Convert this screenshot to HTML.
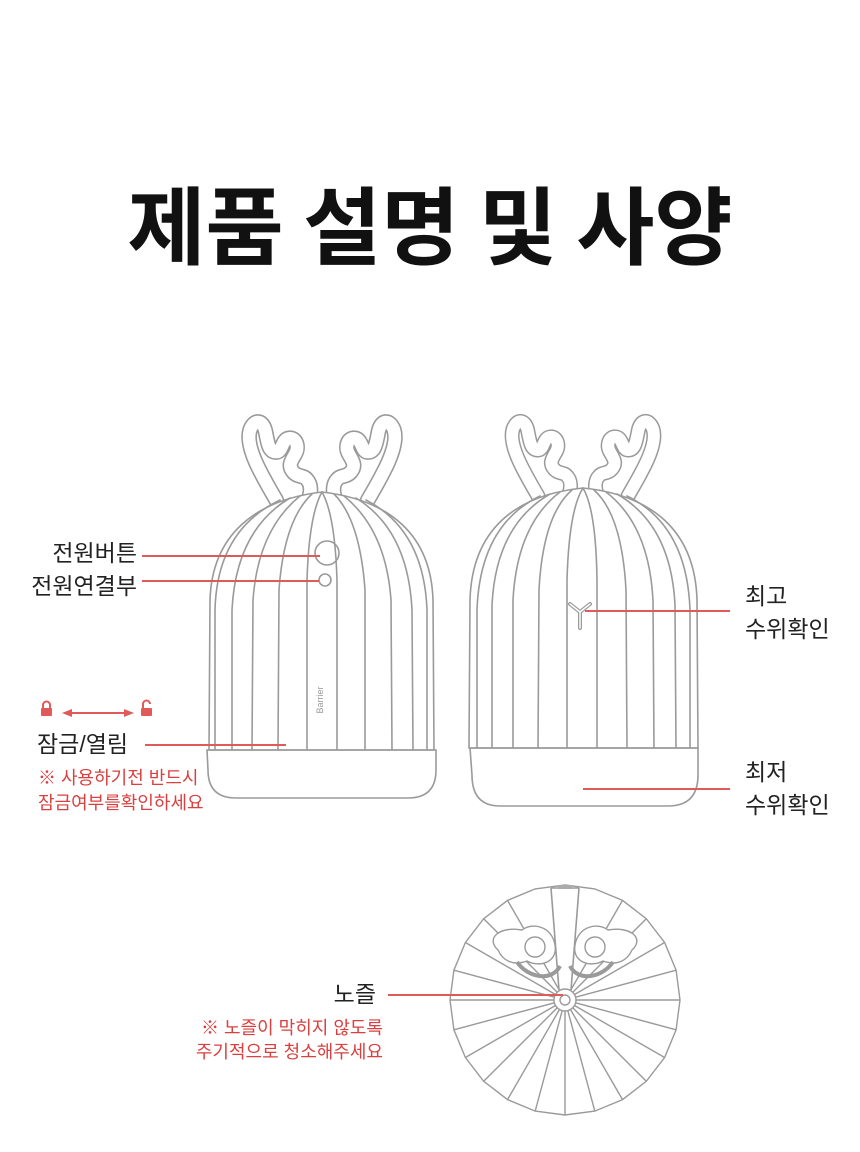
<!DOCTYPE html>
<html><head><meta charset="utf-8"><style>
html,body{margin:0;padding:0;background:#fff}
svg{display:block}
text{font-family:"Liberation Sans","Noto Sans CJK KR",sans-serif}
</style></head><body>
<svg width="860" height="1152" viewBox="0 0 860 1152" xmlns="http://www.w3.org/2000/svg">
<defs>
<path id="ant" d="M-14,6 C-28,-18 -44,-45 -39,-61 C-35,-72 -26,-71 -24,-58 C-22,-48 -21,-40 -14,-40 C-8,-40 -9,-52 -2,-53 C5,-54 8,-45 4,-38 C0,-31 -3,-27 2,-21 C6,-16 12,-18 15,-14 C19,-10 20,-2 16,6"/>
</defs>
<text x="430" y="258" text-anchor="middle" font-size="85" font-weight="bold" fill="#111" style="font-family:'Noto Sans CJK KR',sans-serif">제품 설명 및 사양</text>

<!-- antlers as outlined shapes -->
<g fill="none" stroke-linecap="round" stroke-linejoin="round">
<g stroke="#9a9a9a" stroke-width="15">
<use href="#ant" transform="translate(291,494) scale(1.05)"/>
<use href="#ant" transform="translate(353,494) scale(-1.05,1.05)"/>
<use href="#ant" transform="translate(552,490)"/>
<use href="#ant" transform="translate(614,490) scale(-1,1)"/>
</g>
<g stroke="#fff" stroke-width="12">
<use href="#ant" transform="translate(291,494) scale(1.05)"/>
<use href="#ant" transform="translate(353,494) scale(-1.05,1.05)"/>
<use href="#ant" transform="translate(552,490)"/>
<use href="#ant" transform="translate(614,490) scale(-1,1)"/>
</g>
</g>

<g fill="none" stroke="#9a9a9a" stroke-width="1.6" stroke-linecap="round">
<!-- left device -->
<path d="M209,750 L210,600 C212,535 255,500 322,492 C390,500 431,535 433,600 L434,750 Z" fill="#fff"/>
<path d="M207,750 L436,750 L436,770 Q436,798 408,798 L236,798 Q208,798 208,770 Z"/>
<path d="M215,750 L215,610 Q217,530 280,500"/>
<path d="M232,750 L232,610 Q236,530 290,498"/>
<path d="M252,750 L253,600 Q258,530 300,496"/>
<path d="M278,750 L279,590 Q284,520 312,494"/>
<path d="M307,750 L307,580 Q309,515 322,492"/>
<path d="M337,750 L337,580 Q335,515 322,492"/>
<path d="M365,750 L365,590 Q360,520 334,494"/>
<path d="M392,750 L391,600 Q386,530 344,496"/>
<path d="M413,750 L412,610 Q408,530 356,498"/>
<path d="M427,750 L427,610 Q424,530 366,500"/>
<circle cx="327" cy="553" r="12"/>
<circle cx="325" cy="580" r="6"/>
<!-- right device -->
<path d="M469,748 L470,600 C472,530 515,495 583,488 C651,495 695,530 697,600 L698,748 Z" fill="#fff"/>
<path d="M470,748 L698,748 L698,775 Q698,806 668,806 L500,806 Q472,806 472,775 Z"/>
<path d="M477,748 L477,610 Q480,525 540,496"/>
<path d="M492,748 L492,605 Q496,525 550,494"/>
<path d="M513,748 L513,600 Q517,525 560,492"/>
<path d="M538,748 L539,590 Q543,515 572,490"/>
<path d="M567,748 L567,580 Q569,510 583,488"/>
<path d="M597,748 L597,580 Q596,510 583,488"/>
<path d="M627,748 L626,590 Q622,515 594,490"/>
<path d="M654,748 L653,600 Q649,525 606,492"/>
<path d="M676,748 L675,605 Q671,525 617,494"/>
<path d="M690,748 L690,610 Q687,525 627,496"/>
<path d="M570,604 L580,612 L590,604 M580,612 L580,628" stroke-width="4"/>
<path d="M570,604 L580,612 L590,604 M580,612 L580,628" stroke="#fff" stroke-width="1.5"/>
</g>
<g fill="none" stroke="#9a9a9a" stroke-width="1.4">
<polygon points="680,1000 676.1,1029.8 664.6,1057.5 646.3,1081.3 622.5,1099.6 594.8,1111.1 565,1115 535.2,1111.1 507.5,1099.6 483.7,1081.3 465.4,1057.5 453.9,1029.8 450,1000 453.9,970.2 465.4,942.5 483.7,918.7 507.5,900.4 535.2,888.9 565,885 594.8,888.9 622.5,900.4 646.3,918.7 664.6,942.5 676.1,970.2"/>
<path d="M576,1000 L680,1000 M575.6,1002.8 L676.1,1029.8 M574.5,1005.5 L664.6,1057.5 M572.8,1007.8 L646.3,1081.3 M570.5,1009.5 L622.5,1099.6 M567.8,1010.6 L594.8,1111.1 M565,1011 L565,1115 M562.2,1010.6 L535.2,1111.1 M559.5,1009.5 L507.5,1099.6 M557.2,1007.8 L483.7,1081.3 M555.5,1005.5 L465.4,1057.5 M554.4,1002.8 L453.9,1029.8 M554,1000 L450,1000 M554.4,997.2 L453.9,970.2 M555.5,994.5 L465.4,942.5 M557.2,992.2 L483.7,918.7 M559.5,990.5 L507.5,900.4 M570.5,990.5 L622.5,900.4 M572.8,992.2 L646.3,918.7 M574.5,994.5 L664.6,942.5 M575.6,997.2 L676.1,970.2"/>
<path d="M498,950 C485,938 500,926 522,930 C532,922 552,926 555,945 C558,962 540,968 527,961 C513,966 503,961 498,950 Z" fill="#fff"/>
<circle cx="535" cy="947" r="10"/>
<path d="M517,962 C528,978 552,982 560,966" stroke-width="4"/>
<path d="M632,950 C645,938 630,926 608,930 C598,922 578,926 575,945 C572,962 590,968 603,961 C617,966 627,961 632,950 Z" fill="#fff"/>
<circle cx="595" cy="947" r="10"/>
<path d="M613,962 C602,978 578,982 570,966" stroke-width="4"/>
<path d="M551,888 L559,990 M579,888 L571,990 M551,888 L579,888" stroke-width="1.6"/>
<rect x="558" y="885" width="14" height="4" fill="#aaa" stroke="none"/>
<circle cx="565" cy="1000" r="11" fill="#fff"/>
<circle cx="565" cy="1000" r="5"/>
</g>
<text x="323" y="700" font-size="9" fill="#999" transform="rotate(-90 323 700)" text-anchor="middle">Barrier</text>

<!-- red lines -->
<g stroke="#e05a57" stroke-width="2">
<line x1="142" y1="556" x2="320" y2="556"/>
<line x1="142" y1="581" x2="319" y2="581"/>
<line x1="145" y1="745" x2="286" y2="745"/>
<line x1="585" y1="611" x2="730" y2="611"/>
<line x1="583" y1="789" x2="730" y2="789"/>
<line x1="388" y1="995" x2="563" y2="995"/>
<line x1="66" y1="713" x2="130" y2="713"/>
</g>
<g fill="#e05a57">
<polygon points="62,713 72,709 72,717"/>
<polygon points="134,713 124,709 124,717"/>
<rect x="41" y="708" width="11" height="8" rx="1"/>
<path d="M43,708 V705 A3.5,3.5 0 0 1 50,705 V708" fill="none" stroke="#e05a57" stroke-width="2"/>
<rect x="141" y="708" width="11" height="8" rx="1"/>
<path d="M143,708 V704 A3.5,3.5 0 0 1 150,704" fill="none" stroke="#e05a57" stroke-width="2"/>
</g>

<g font-size="23" fill="#222">
<text x="137" y="561" text-anchor="end">전원버튼</text>
<text x="137" y="594" text-anchor="end">전원연결부</text>
<text x="37" y="752">잠금/열림</text>
<text x="745" y="604">최고</text>
<text x="745" y="637">수위확인</text>
<text x="745" y="780">최저</text>
<text x="745" y="813">수위확인</text>
<text x="376" y="1002" text-anchor="end">노즐</text>
</g>
<g font-size="18" fill="#d9403f">
<text x="38" y="784">※ 사용하기전 반드시</text>
<text x="38" y="809">잠금여부를확인하세요</text>
<text x="383" y="1034" text-anchor="end">※ 노즐이 막히지 않도록</text>
<text x="383" y="1058" text-anchor="end">주기적으로 청소해주세요</text>
</g>
</svg>
</body></html>
